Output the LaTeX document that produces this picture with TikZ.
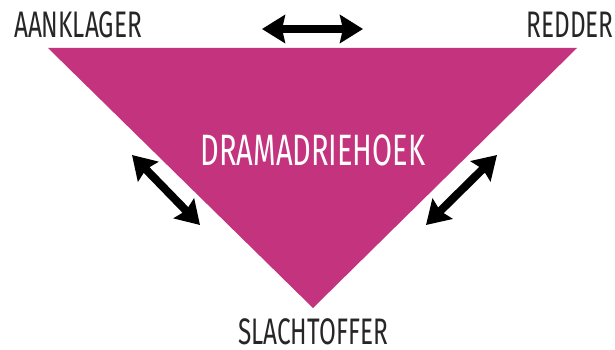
\documentclass[tikz,border=0pt]{standalone}
\usepackage{fontspec}
\setmainfont[FakeStretch=0.66]{Fira Sans}
\usetikzlibrary{arrows.meta}
\definecolor{drama}{RGB}{196,51,125}
\tikzstyle{every node}=[font=\fontsize{21}{21}\selectfont]
\tikzstyle{role}=[inner sep=0pt, text=black!85]
\tikzstyle{pijl}=[line width=4.6pt, {Stealth[length=0.46cm,width=0.56cm,inset=0.06cm]}-{Stealth[length=0.46cm,width=0.56cm,inset=0.06cm]}]

\begin{document}
\begin{tikzpicture}
  \useasboundingbox (0,0) rectangle (12.3,6.98);
  % triangle
  \coordinate (links) at (0.96,6.02);
  \coordinate (rechts) at (11.54,6.02);
  \coordinate (onder) at (6.26,0.82);
  \fill[drama] (links) -- (rechts) -- (onder) -- cycle;
  \node[role, text=white, font=\fontsize{25}{25}\selectfont] (titel) at (6.26,3.98) {DRAMADRIEHOEK};
  % roles
  \node[role] (aanklager) at (1.56,6.48) {AANKLAGER};
  \node[role] (redder) at (11.4,6.48) {REDDER};
  \node[role] (slachtoffer) at (6.26,0.35) {SLACHTOFFER};
  % arrows
  \coordinate (a1) at (5.24,6.40);
  \coordinate (a2) at (7.26,6.40);
  \coordinate (b1) at (2.64,3.88);
  \coordinate (b2) at (4.00,2.48);
  \coordinate (c1) at (9.94,3.88);
  \coordinate (c2) at (8.52,2.48);
  \foreach \s/\e in {a1/a2,b1/b2,c1/c2} {
    \draw[pijl] (\s) -- (\e);
  }
\end{tikzpicture}
\end{document}
